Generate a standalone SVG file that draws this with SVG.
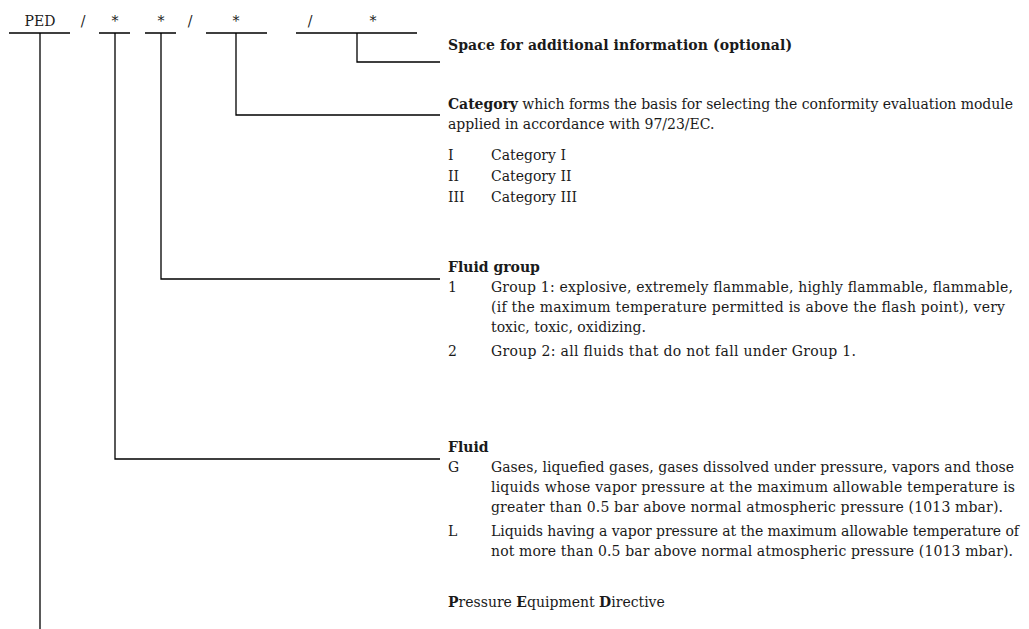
<svg xmlns="http://www.w3.org/2000/svg" width="1029" height="629" viewBox="0 0 1029 629">
<style>
  text { font-family: "DejaVu Serif", "Liberation Serif", serif; font-size: 14px; fill: #1a1a1a; }
  .b { font-weight: bold; }
  .code { font-size: 14px; text-anchor: middle; }
  .ln { stroke: #000; stroke-width: 1.3; fill: none; }
</style>
<rect width="1029" height="629" fill="#fff"/>
<g id="code">
  <text class="code" x="40" y="26">PED</text>
  <text class="code" x="83" y="26">/</text>
  <text class="code" x="115" y="26">*</text>
  <text class="code" x="161" y="26">*</text>
  <text class="code" x="190" y="26">/</text>
  <text class="code" x="236" y="26">*</text>
  <text class="code" x="310" y="26">/</text>
  <text class="code" x="373" y="26">*</text>
</g>
<g id="connectors">
  <path class="ln" d="M9 33H70M99 33H130M145 33H176M206 33H267M296 33H417"/>
  <path class="ln" d="M40 33V629"/>
  <path class="ln" d="M115 33V459H440"/>
  <path class="ln" d="M161 33V279H440"/>
  <path class="ln" d="M236 33V115H440"/>
  <path class="ln" d="M357 33V62H440"/>
</g>
<g id="additional">
  <text class="b" x="448" y="50" textLength="344">Space for additional information (optional)</text>
</g>
<g id="category">
  <text x="448" y="109" textLength="565"><tspan class="b">Category</tspan> which forms the basis for selecting the conformity evaluation module</text>
  <text x="448" y="129">applied in accordance with 97/23/EC.</text>
  <text x="448" y="160">I</text><text x="491" y="160">Category I</text>
  <text x="448" y="181">II</text><text x="491" y="181">Category II</text>
  <text x="448" y="202">III</text><text x="491" y="202">Category III</text>
</g>
<g id="fluid-group">
  <text class="b" x="448" y="272">Fluid group</text>
  <text x="448" y="292">1</text>
  <text x="491" y="292" textLength="522">Group 1: explosive, extremely flammable, highly flammable, flammable,</text>
  <text x="491" y="312" textLength="514">(if the maximum temperature permitted is above the flash point), very</text>
  <text x="491" y="332">toxic, toxic, oxidizing.</text>
  <text x="448" y="356">2</text>
  <text x="491" y="356" textLength="365">Group 2: all fluids that do not fall under Group 1.</text>
</g>
<g id="fluid">
  <text class="b" x="448" y="452">Fluid</text>
  <text x="448" y="472">G</text>
  <text x="491" y="472" textLength="523">Gases, liquefied gases, gases dissolved under pressure, vapors and those</text>
  <text x="491" y="492" textLength="524">liquids whose vapor pressure at the maximum allowable temperature is</text>
  <text x="491" y="512" textLength="512">greater than 0.5 bar above normal atmospheric pressure (1013 mbar).</text>
  <text x="448" y="536">L</text>
  <text x="491" y="536" textLength="528">Liquids having a vapor pressure at the maximum allowable temperature of</text>
  <text x="491" y="556" textLength="522">not more than 0.5 bar above normal atmospheric pressure (1013 mbar).</text>
</g>
<g id="ped">
  <text x="448" y="607"><tspan class="b">P</tspan>ressure <tspan class="b">E</tspan>quipment <tspan class="b">D</tspan>irective</text>
</g>
</svg>
